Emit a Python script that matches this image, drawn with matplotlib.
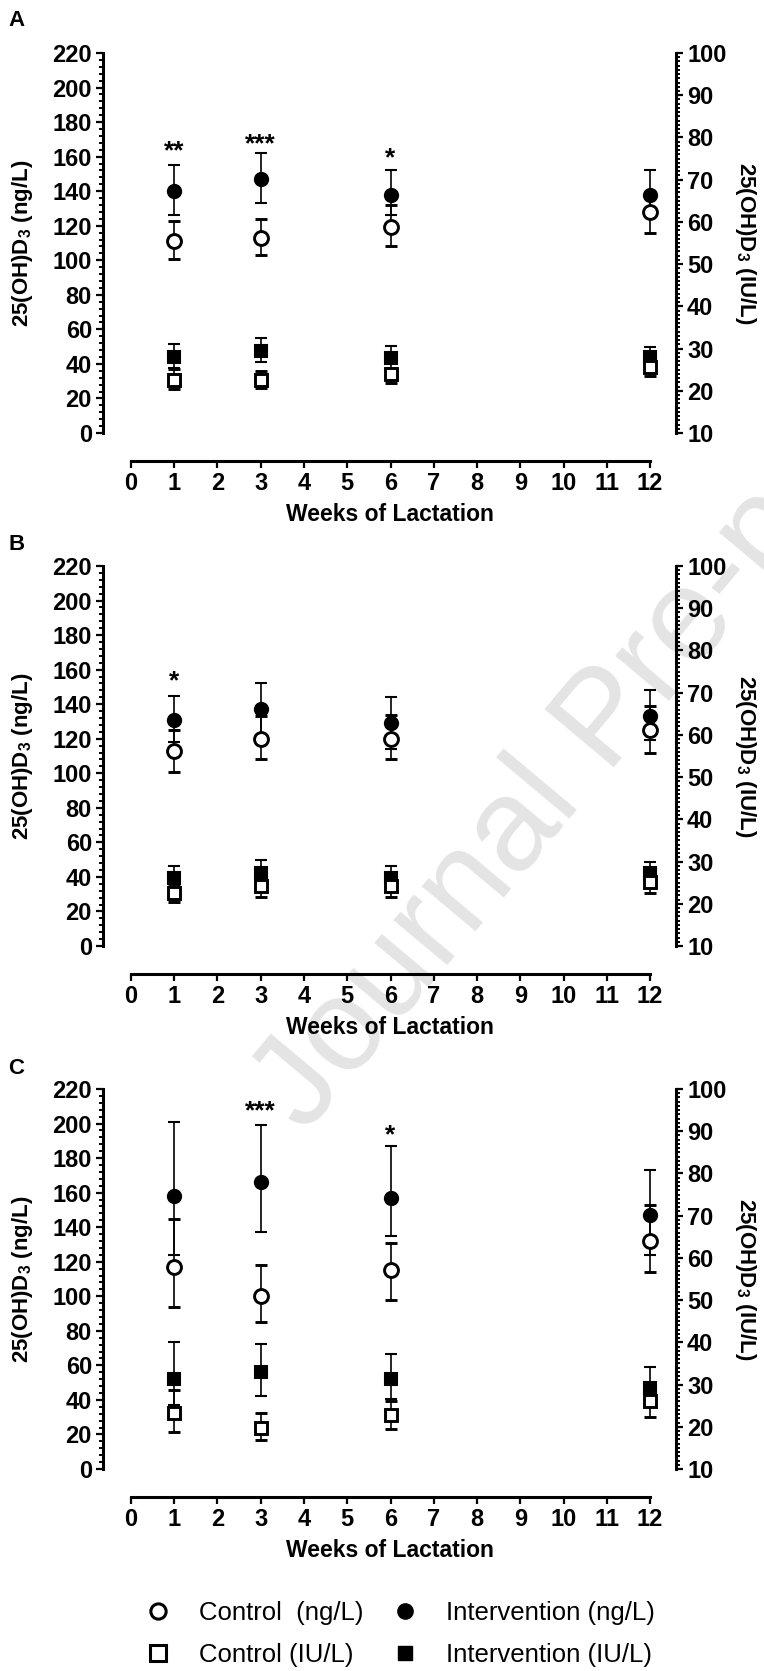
import matplotlib
matplotlib.use('Agg')
import matplotlib.pyplot as plt
from matplotlib.ticker import MultipleLocator
from matplotlib.lines import Line2D

plt.rcParams['font.family'] = ['Liberation Sans', 'DejaVu Sans']
plt.rcParams['mathtext.default'] = 'regular'

weeks = [1, 3, 6, 12]
xticks = list(range(0, 13))

# panel A  (ng/L on the left axis, IU/L on the right axis)
a_int_ng = [140, 147, 138, 138]
a_int_ng_lo = [126, 133, 126, 125]
a_int_ng_hi = [155, 162, 152, 152]
a_ctl_ng = [111, 113, 119, 128]
a_ctl_ng_lo = [101, 103, 108, 116]
a_ctl_ng_hi = [123, 124, 132, 139]
a_int_iu = [28.0, 29.4, 27.8, 27.9]
a_int_iu_lo = [25.4, 26.8, 25.1, 25.5]
a_int_iu_hi = [31.1, 32.4, 30.7, 30.4]
a_ctl_iu = [22.5, 22.6, 24.0, 25.6]
a_ctl_iu_lo = [20.4, 20.7, 21.9, 23.5]
a_ctl_iu_hi = [25.1, 24.8, 25.4, 27.5]
a_stars = [(1, 168, '**'), (3, 172, '***'), (6, 164, '*')]

# panel B
b_int_ng = [131, 137, 129, 133]
b_int_ng_lo = [118, 122, 114, 119]
b_int_ng_hi = [145, 152, 144, 148]
b_ctl_ng = [113, 120, 120, 125]
b_ctl_ng_lo = [101, 108, 108, 112]
b_ctl_ng_hi = [125, 133, 134, 139]
b_int_iu = [26.1, 27.4, 26.1, 27.3]
b_int_iu_lo = [23.3, 24.5, 23.3, 24.8]
b_int_iu_hi = [29.0, 30.3, 28.9, 29.8]
b_ctl_iu = [22.6, 24.2, 24.2, 25.2]
b_ctl_iu_lo = [20.4, 21.6, 21.6, 22.6]
b_ctl_iu_hi = [24.7, 26.5, 26.5, 27.6]
b_stars = [(1, 158, '*')]

# panel C
c_int_ng = [158, 166, 157, 147]
c_int_ng_lo = [124, 137, 135, 124]
c_int_ng_hi = [201, 199, 187, 173]
c_ctl_ng = [117, 100, 115, 132]
c_ctl_ng_lo = [94, 85, 98, 114]
c_ctl_ng_hi = [145, 118, 131, 153]
c_int_iu = [31.4, 33.0, 31.2, 29.3]
c_int_iu_lo = [25.1, 27.3, 26.6, 25.8]
c_int_iu_hi = [40.0, 39.7, 37.2, 34.2]
c_ctl_iu = [23.2, 19.8, 22.8, 26.1]
c_ctl_iu_lo = [18.7, 16.9, 19.5, 22.4]
c_ctl_iu_hi = [28.7, 23.3, 26.1, 29.0]
c_stars = [(3, 212, '***'), (6, 198, '*')]

# (letter, letter y px, axes top px, ...)
panels = [
    ('A', 20, 53, a_int_ng, a_int_ng_lo, a_int_ng_hi, a_ctl_ng, a_ctl_ng_lo, a_ctl_ng_hi,
     a_int_iu, a_int_iu_lo, a_int_iu_hi, a_ctl_iu, a_ctl_iu_lo, a_ctl_iu_hi, a_stars),
    ('B', 545, 566, b_int_ng, b_int_ng_lo, b_int_ng_hi, b_ctl_ng, b_ctl_ng_lo, b_ctl_ng_hi,
     b_int_iu, b_int_iu_lo, b_int_iu_hi, b_ctl_iu, b_ctl_iu_lo, b_ctl_iu_hi, b_stars),
    ('C', 1068, 1089, c_int_ng, c_int_ng_lo, c_int_ng_hi, c_ctl_ng, c_ctl_ng_lo, c_ctl_ng_hi,
     c_int_iu, c_int_iu_lo, c_int_iu_hi, c_ctl_iu, c_ctl_iu_lo, c_ctl_iu_hi, c_stars),
]

W, H = 764, 1671
fig = plt.figure(figsize=(W / 100, H / 100), dpi=100)

# watermark
fig.text(305 / W, 1 - 1135 / H, 'Journal Pre-proof', fontsize=95, color='#e4e4e4',
         rotation=50, rotation_mode='anchor', ha='left', va='baseline', zorder=-5)


def err(vals, lo, hi):
    return [[v - l for v, l in zip(vals, lo)], [h - v for v, h in zip(vals, hi)]]


for (letter, ly, top, int_ng, int_ng_lo, int_ng_hi, ctl_ng, ctl_ng_lo, ctl_ng_hi,
     int_iu, int_iu_lo, int_iu_hi, ctl_iu, ctl_iu_lo, ctl_iu_hi, stars) in panels:
    ax = fig.add_axes([103 / W, 1 - (top + 380) / H, 573 / W, 380 / H])
    ax.set_facecolor('none')
    ax2 = ax.twinx()
    ax2.set_facecolor('none')

    ax.set_xlim(-0.647, 12.6)
    ax.set_ylim(0, 220)
    ax2.set_ylim(10, 100)

    # squares on the IU/L axis
    ax2.errorbar(weeks, int_iu, yerr=err(int_iu, int_iu_lo, int_iu_hi), fmt='s',
                 ms=9, mfc='black', mec='black', mew=1.5, ecolor='black',
                 elinewidth=1.2, capsize=4, capthick=1.2, zorder=3)
    ax2.errorbar(weeks, ctl_iu, yerr=err(ctl_iu, ctl_iu_lo, ctl_iu_hi), fmt='s',
                 ms=9, mfc='white', mec='black', mew=2.1, ecolor='black',
                 elinewidth=1.2, capsize=4, capthick=1.2, zorder=4)
    # circles on the ng/L axis
    ax.errorbar(weeks, int_ng, yerr=err(int_ng, int_ng_lo, int_ng_hi), fmt='o',
                ms=9.5, mfc='black', mec='black', mew=1.5, ecolor='black',
                elinewidth=1.2, capsize=4, capthick=1.2, zorder=3)
    ax.errorbar(weeks, ctl_ng, yerr=err(ctl_ng, ctl_ng_lo, ctl_ng_hi), fmt='o',
                ms=10, mfc='white', mec='black', mew=2.1, ecolor='black',
                elinewidth=1.2, capsize=4, capthick=1.2, zorder=4)

    for x, y, s in stars:
        ax.annotate(s, (x, y), xytext=(0, -11), textcoords='offset points',
                    ha='center', va='baseline', fontsize=19, fontweight='bold')

    # spines
    for side in ['top', 'right']:
        ax.spines[side].set_visible(False)
    for side in ['top', 'left', 'bottom']:
        ax2.spines[side].set_visible(False)
    ax.spines['left'].set_linewidth(2.2)
    ax2.spines['right'].set_linewidth(2.2)
    ax.spines['bottom'].set_linewidth(2.2)
    ax.spines['bottom'].set_position(('outward', 20))
    ax.spines['bottom'].set_bounds(0, 12)

    ax.set_xticks(xticks)
    ax.set_yticks(range(0, 221, 20))
    ax.yaxis.set_minor_locator(MultipleLocator(4))
    ax2.set_yticks(range(10, 101, 10))
    ax2.yaxis.set_minor_locator(MultipleLocator(1))

    ax.tick_params(axis='both', which='major', length=5, width=1.6, pad=3,
                   labelsize=17, direction='out')
    ax.tick_params(axis='y', which='minor', length=3, width=1.4)
    ax2.tick_params(axis='y', which='major', length=5, width=1.6, pad=3,
                    labelsize=17, direction='out')
    ax2.tick_params(axis='y', which='minor', length=3, width=1.4)
    for lab in ax.get_xticklabels() + ax.get_yticklabels() + ax2.get_yticklabels():
        lab.set_fontweight('bold')

    ax.set_xlabel('Weeks of Lactation', fontsize=16.5, fontweight='bold', labelpad=6)
    ax.set_ylabel('25(OH)D$_3$ (ng/L)', fontsize=16, fontweight='bold')
    ax.yaxis.set_label_coords(-0.118, 0.5)
    ax2.set_ylabel('25(OH)D$_3$ (IU/L)', fontsize=16, fontweight='bold',
                   rotation=270, va='bottom')
    ax2.yaxis.set_label_coords(1.1, 0.5)

    fig.text(8 / W, 1 - ly / H, letter, fontsize=16, fontweight='bold',
             ha='left', va='center')

# legend
handles = [
    Line2D([], [], ls='none', marker='o', ms=11, mfc='white', mec='black', mew=2.2),
    Line2D([], [], ls='none', marker='s', ms=11, mfc='white', mec='black', mew=2.2),
    Line2D([], [], ls='none', marker='o', ms=11, mfc='black', mec='black'),
    Line2D([], [], ls='none', marker='s', ms=10, mfc='black', mec='black'),
]
labels = ['Control  (ng/L)', 'Control (IU/L)', 'Intervention (ng/L)', 'Intervention (IU/L)']
fig.legend(handles, labels, ncol=2, loc='center', bbox_to_anchor=(400 / W, 1 - 1634 / H),
           frameon=False, fontsize=18.5, handlelength=1.0, handletextpad=1.1,
           columnspacing=1.1, labelspacing=0.7)

plt.savefig('out.png', dpi=100)
